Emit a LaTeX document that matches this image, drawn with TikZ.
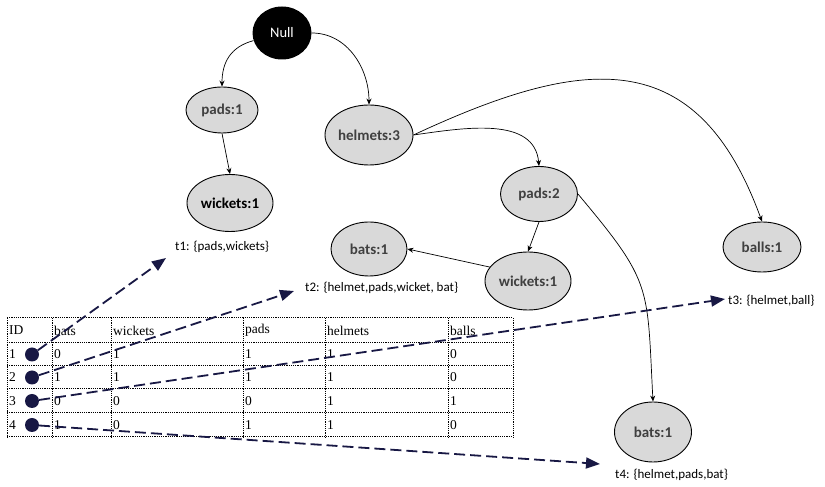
\documentclass[tikz,border=0pt]{standalone}
\usepackage{fontspec}
\setmainfont{Liberation Serif}
\newfontfamily\calibri{Carlito}
\usetikzlibrary{shapes.geometric,arrows.meta}
\definecolor{navy}{RGB}{24,24,68}
\definecolor{nodegray}{RGB}{217,217,217}
\definecolor{labelgray}{RGB}{64,64,64}

\begin{document}
\begin{tikzpicture}[x=1pt,y=1pt,
	item/.style={ellipse,draw,line width=.9pt,fill=nodegray,text=labelgray,inner sep=0pt,
		font=\calibri\bfseries\fontsize{15}{17}\selectfont},
	tlabel/.style={inner sep=0pt,font=\calibri\fontsize{13}{15}\selectfont},
	link/.style={line width=.7pt,-{Stealth[length=6pt,width=5pt]}},
	trans/.style={navy,line width=1.8pt,dash pattern=on 11pt off 5pt,-{Triangle[length=14pt,width=11pt]}},
	tablegrid/.style={line width=1pt,dash pattern=on 1.2pt off 1pt},
	cell/.style={anchor=west,inner sep=0pt,font=\fontsize{13.5}{15}\selectfont}]

	\useasboundingbox (0,0) rectangle (825,487);

	% tree
	\node[ellipse,fill=black,text=white,minimum width=59pt,minimum height=53pt,inner sep=0pt,
		font=\calibri\fontsize{14.5}{16}\selectfont] (null) at (282,454) {Null};
	\node[item,minimum width=72pt,minimum height=46pt] (pads1) at (222,377) {pads:1};
	\node[item,minimum width=86pt,minimum height=57pt,text=black] (wick1) at (230,284) {wickets:1};
	\node[item,minimum width=88pt,minimum height=60pt] (helm3) at (369,352) {helmets:3};
	\node[item,minimum width=77pt,minimum height=55pt] (pads2) at (539,293) {pads:2};
	\node[item,minimum width=86pt,minimum height=58pt] (wick2) at (528,206) {wickets:1};
	\node[item,minimum width=76pt,minimum height=54pt] (bats1) at (369,238) {bats:1};
	\node[item,minimum width=78pt,minimum height=50pt] (balls1) at (762,240) {balls:1};
	\node[item,minimum width=77pt,minimum height=60pt] (bats2) at (653,55) {bats:1};

	\draw[link] (null.195) to[out=195,in=90,looseness=1.1] (pads1.north);
	\draw[link] (null.east) to[out=0,in=90] (helm3.north);
	\draw[link] (pads1.south) -- (wick1.north);
	\draw[link] (helm3.east) to[out=8,in=95] (pads2.north);
	\draw[link] (helm3.east) to[out=25,in=110,looseness=1.35] (balls1.north);
	\draw[link] (pads2.south) -- (wick2.north);
	\draw[link] (wick2.160) -- (bats1.east);
	\draw[link] (pads2.east) to[out=-50,in=93,looseness=1.35] (bats2.north);

	% transactions
	\node[tlabel,anchor=west] (t1) at (175,240) {t1: \{pads,wickets\}};
	\node[tlabel,anchor=west] (t2) at (305,199) {t2: \{helmet,pads,wicket, bat\}};
	\node[tlabel,anchor=west] (t3) at (728,186) {t3: \{helmet,ball\}};
	\node[tlabel,anchor=west] (t4) at (615,12) {t4: \{helmet,pads,bat\}};
	\coordinate (tip1) at (166,229);
	\coordinate (tip2) at (294,196);
	\coordinate (tip3) at (725,188);
	\coordinate (tip4) at (600,23);

	% table
	\foreach \y in {169,144,121,98,74,50}
		\draw[tablegrid] (7,\y) -- (513,\y);
	\foreach \x in {7,52,111,243,325,448,513}
		\draw[tablegrid] (\x,169) -- (\x,50);
	\foreach \x/\t [count=\c] in {9/ID,54/bats,113/wickets,245/pads,327/helmets,450/balls}
		\node[cell] (head\c) at (\x,156.5) {\t};
	\foreach \y/\a/\b/\p/\h/\s [count=\i] in {132.5/0/1/1/1/0,109.5/1/1/1/1/0,86/0/0/0/1/1,62/1/0/1/1/0}{
		\node[cell] (id\i) at (9,\y) {\i};
		\node[cell] (bats\i) at (54,\y) {\a};
		\node[cell] (wickets\i) at (113,\y) {\b};
		\node[cell] (pads\i) at (245,\y) {\p};
		\node[cell] (helmets\i) at (327,\y) {\h};
		\node[cell] (balls\i) at (450,\y) {\s};
		\node[circle,fill=navy,minimum size=14pt,inner sep=0pt] (dot\i) at (32,\y) {};
	}

	\draw[trans] (dot1) -- (tip1);
	\draw[trans] (dot2) -- (tip2);
	\draw[trans] (dot3) -- (tip3);
	\draw[trans] (dot4) -- (tip4);

\end{tikzpicture}
\end{document}
